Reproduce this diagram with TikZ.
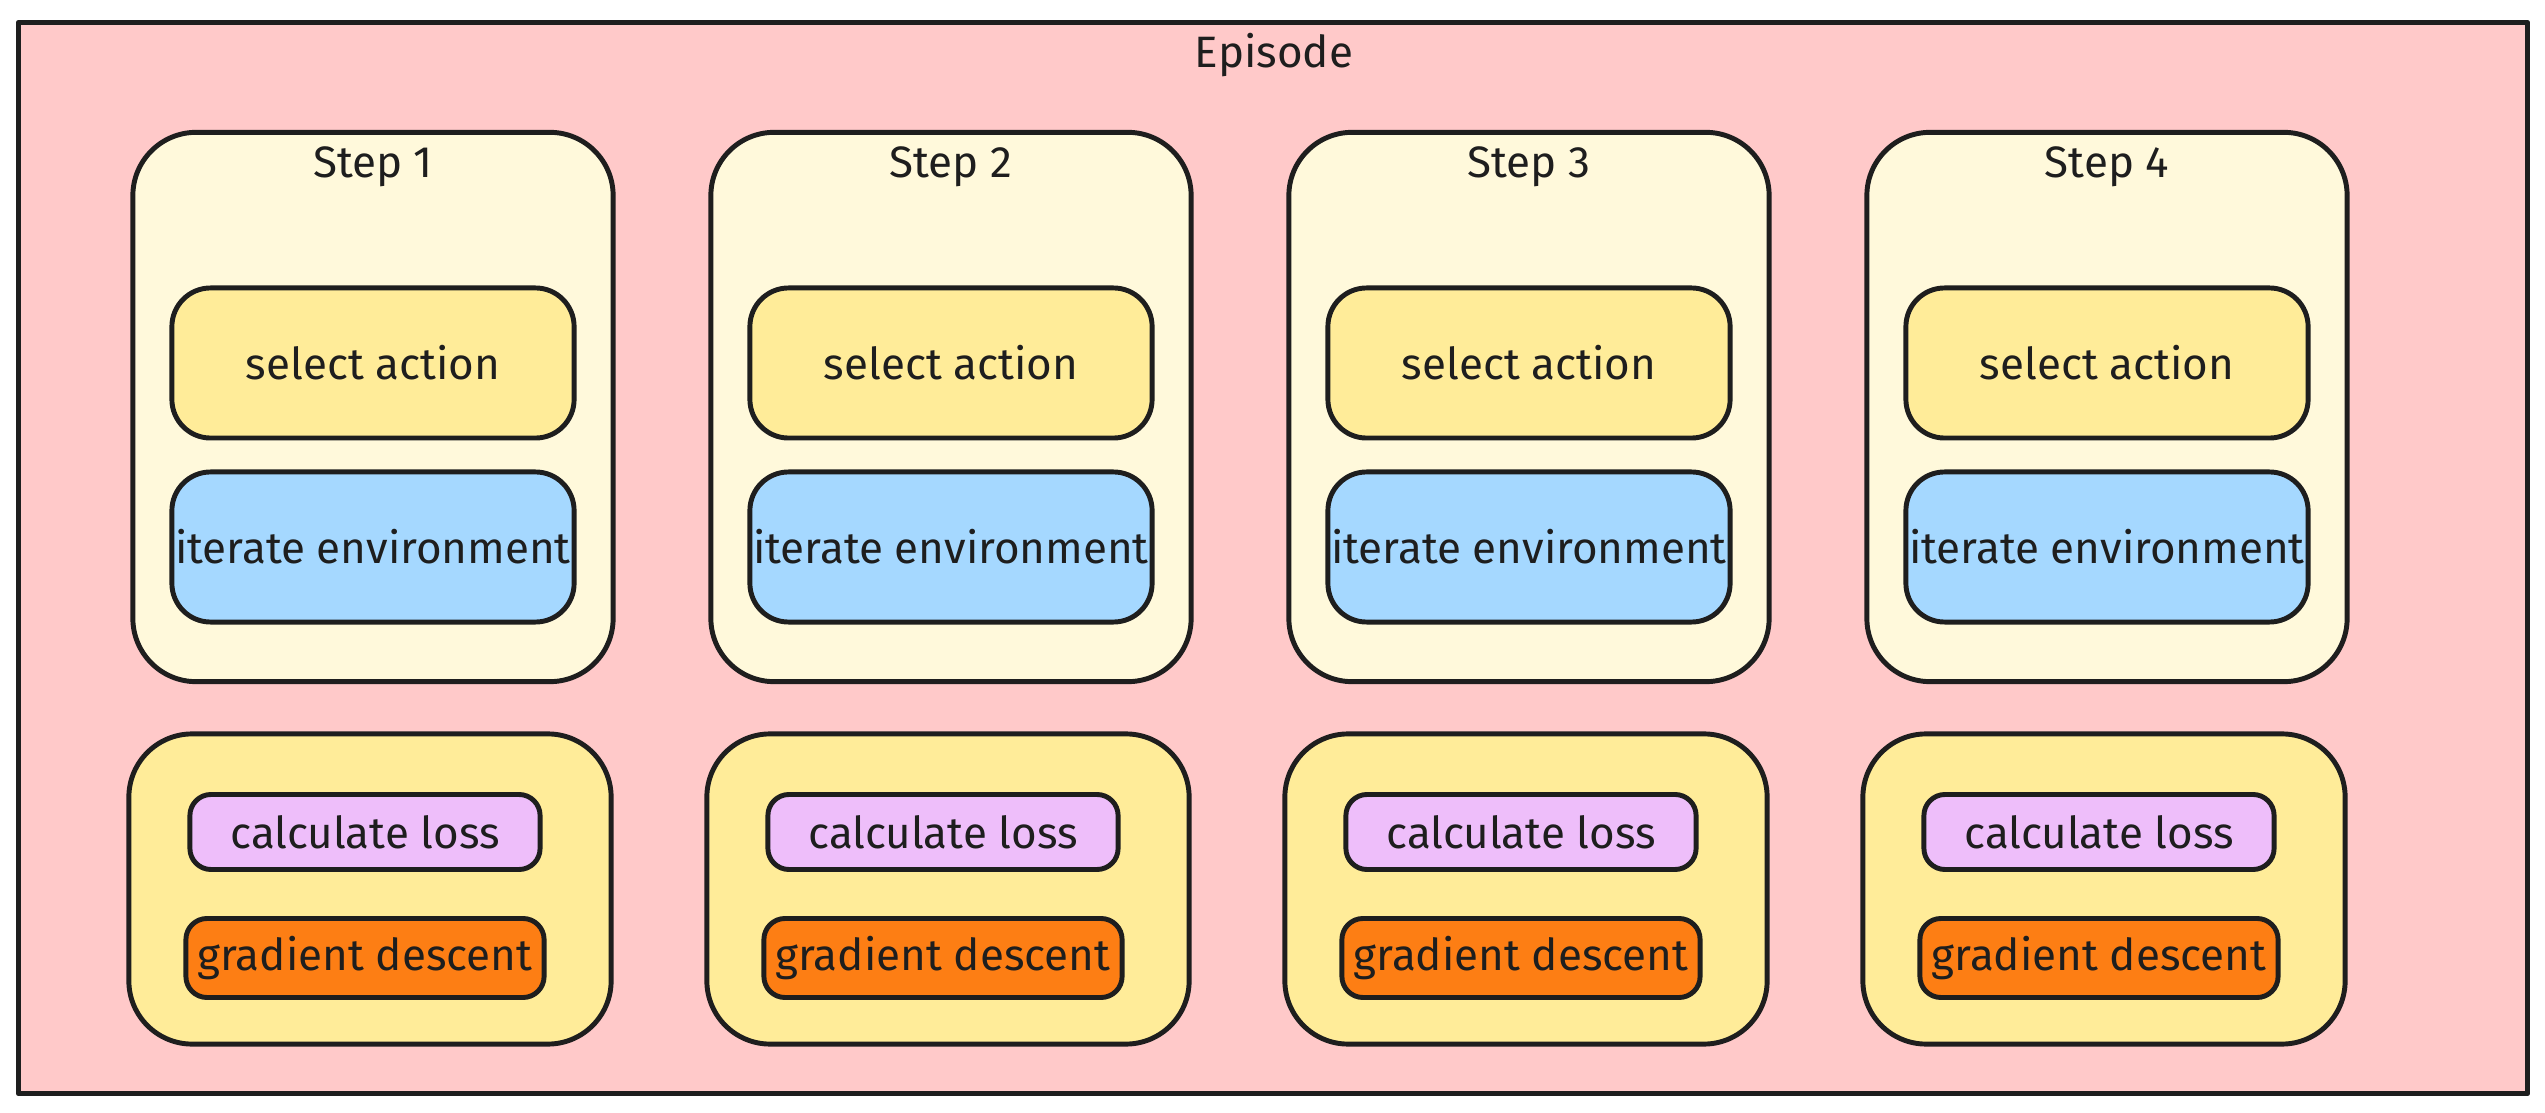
\documentclass[tikz,border=0pt]{standalone}
\usepackage{fontspec}
\setmainfont{Fira Sans}
\usetikzlibrary{positioning}
\definecolor{ink}{HTML}{1E1E1E}
\definecolor{episfill}{HTML}{FFC9C9}
\definecolor{stepfill}{HTML}{FFF9DB}
\definecolor{selfill}{HTML}{FFEC99}
\definecolor{iterfill}{HTML}{A5D8FF}
\definecolor{lossfill}{HTML}{EEBEFA}
\definecolor{gradfill}{HTML}{FD7E14}
\begin{document}
\begin{tikzpicture}[x=0.01cm, y=-0.01cm, line join=round, line cap=round,
	font=\fontsize{12.5}{15}\selectfont, text=ink,
	framebox/.style={draw=ink, fill=episfill, line width=1.4pt, inner sep=0pt, minimum width=25.08cm, minimum height=10.71cm},
	stepbox/.style={draw=ink, fill=stepfill, line width=1.4pt, rounded corners=18pt, inner sep=0pt, minimum width=4.8cm, minimum height=5.49cm},
	actbox/.style={draw=ink, line width=1.4pt, rounded corners=11pt, inner sep=0pt, minimum width=4.02cm, minimum height=1.5cm},
	trainbox/.style={draw=ink, fill=selfill, line width=1.4pt, rounded corners=18pt, inner sep=0pt, minimum width=4.82cm, minimum height=3.1cm},
	smallbox/.style={draw=ink, line width=1.4pt, rounded corners=6pt, inner sep=0pt, minimum height=0.75cm}]
	\useasboundingbox (0,0) rectangle (2545,1113);
	% episode frame
	\node[framebox] (episode) at (1273,558) {};
	\node (eplbl) at (1274,55) {Episode};
	% one column per step
	\foreach \i [evaluate=\i as \cx using 373+578*(\i-1)] in {1,...,4}{
		\node[stepbox] (step\i) at (\cx,407) {};
		\node (steplbl\i) at (\cx,167) {Step \i};
		\node[actbox, fill=selfill] (sel\i) at (\cx,363) {select action};
		\node[actbox, fill=iterfill] (iter\i) at (\cx,547) {iterate environment};
		\node[trainbox] (train\i) at (\cx-3,889) {};
		\node[smallbox, fill=lossfill, minimum width=3.5cm] (loss\i) at (\cx-8,832) {calculate loss};
		\node[smallbox, fill=gradfill, minimum width=3.58cm, minimum height=0.79cm] (grad\i) at (\cx-8,958) {gradient descent};
	}
\end{tikzpicture}
\end{document}
